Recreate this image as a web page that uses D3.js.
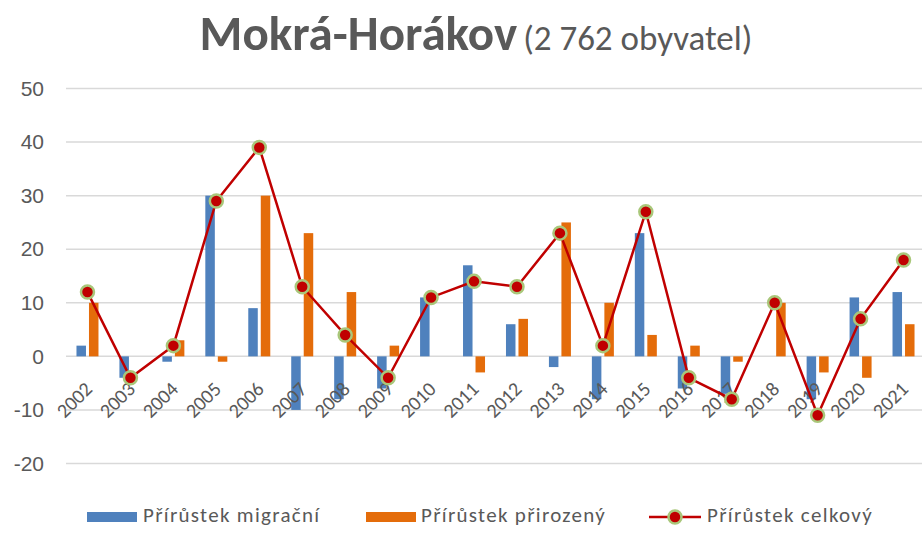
<!DOCTYPE html>
<html>
<head>
<meta charset="utf-8">
<script src="https://cdn.jsdelivr.net/npm/d3@7"></script>
<style>
  body { margin: 0; background: #fff; }
  svg { font-family: Carlito, Lato, "Open Sans", sans-serif; }
</style>
</head>
<body>
<svg></svg>
<script>
var years = ["2002","2003","2004","2005","2006","2007","2008","2009","2010","2011",
             "2012","2013","2014","2015","2016","2017","2018","2019","2020","2021"];
var migracni = [2, -4, -1, 30, 9, -10, -8, -6, 11, 17, 6, -2, -8, 23, -6, -7, 0, -8, 11, 12];
var prirozeny = [10, 0, 3, -1, 30, 23, 12, 2, 0, -3, 7, 25, 10, 4, 2, -1, 10, -3, -4, 6];
var celkovy = [12, -4, 2, 29, 39, 13, 4, -4, 11, 14, 13, 23, 2, 27, -4, -8, 10, -11, 7, 18];
var yTicks = [-20, -10, 0, 10, 20, 30, 40, 50];
var legendLabels = ["Přírůstek migrační", "Přírůstek přirozený", "Přírůstek celkový"];

var width = 922, height = 534;
var margin = { top: 88.5, right: -3, bottom: 70.5, left: 66 };

var blue = "#4F81BD", orange = "#E46C0A", red = "#C00000", grey = "#595959";

var svg = d3.select("svg").attr("width", width).attr("height", height);

var x = d3.scaleBand()
          .domain(years)
          .range([margin.left, width - margin.right]);

var y = d3.scaleLinear()
          .domain([-20, 50])
          .range([height - margin.bottom, margin.top]);

var barW = 9.5, gap = 3;

function cx(i) { return x(years[i]) + x.bandwidth()/2 }

// gridlines
svg.append("g")
   .selectAll("line")
   .data(yTicks)
   .enter()
   .append("line")
   .attr("x1", margin.left)
   .attr("x2", width - margin.right)
   .attr("y1", function(d){ return y(d) })
   .attr("y2", function(d){ return y(d) })
   .attr("stroke", "#D9D9D9")
   .attr("stroke-width", 1.5);

// y labels
var yAxis = svg.append("g")
   .attr("transform", "translate(44,0)")
   .call(d3.axisLeft(y).tickValues(yTicks).tickSize(0).tickPadding(0)
           .tickFormat(function(d){ return String(d) }));
yAxis.select(".domain").remove();
yAxis.selectAll("text")
     .attr("fill", grey)
     .attr("font-size", 21);

// bars
svg.append("g")
   .selectAll("rect")
   .data(migracni)
   .enter()
   .append("rect")
   .attr("x", function(d, i){ return cx(i) - barW - gap/2 })
   .attr("width", barW)
   .attr("y", function(d){ return y(Math.max(0, d)) })
   .attr("height", function(d){ return Math.abs(y(d) - y(0)) })
   .attr("fill", blue);

svg.append("g")
   .selectAll("rect")
   .data(prirozeny)
   .enter()
   .append("rect")
   .attr("x", function(d, i){ return cx(i) + gap/2 })
   .attr("width", barW)
   .attr("y", function(d){ return y(Math.max(0, d)) })
   .attr("height", function(d){ return Math.abs(y(d) - y(0)) })
   .attr("fill", orange);

// x labels
svg.append("g")
   .selectAll("text")
   .data(years)
   .enter()
   .append("text")
   .attr("transform", function(d, i){
     return "translate(" + (cx(i) + 6) + "," + (y(0) + 34) + ") rotate(-45)";
   })
   .attr("text-anchor", "end")
   .attr("font-size", 20)
   .attr("fill", grey)
   .text(function(d){ return d });

// line
var line = d3.line()
   .x(function(d, i){ return cx(i) })
   .y(function(d){ return y(d) });

svg.append("path")
   .datum(celkovy)
   .attr("d", line)
   .attr("fill", "none")
   .attr("stroke", red)
   .attr("stroke-width", 2.5);

svg.append("g")
   .selectAll("circle")
   .data(celkovy)
   .enter()
   .append("circle")
   .attr("cx", function(d, i){ return cx(i) })
   .attr("cy", function(d){ return y(d) })
   .attr("r", 6.5)
   .attr("fill", red)
   .attr("stroke", "#A9C77A")
   .attr("stroke-width", 2.5);

// title
var title = svg.append("text")
   .attr("x", 476)
   .attr("y", 50)
   .attr("text-anchor", "middle")
   .attr("fill", grey);
title.append("tspan")
   .attr("font-size", 49)
   .attr("font-weight", "bold")
   .text("Mokrá-Horákov");
title.append("tspan")
   .attr("font-size", 35)
   .attr("dx", 6)
   .text("(2 762 obyvatel)");

// legend
var legX = [87, 366, 649];
var legTextX = [143, 421, 707];
var leg = svg.append("g").attr("font-size", 21).attr("fill", grey).attr("letter-spacing", 1.3);

leg.append("rect").attr("x", legX[0]).attr("y", 512).attr("width", 50).attr("height", 10).attr("fill", blue);
leg.append("rect").attr("x", legX[1]).attr("y", 512).attr("width", 50).attr("height", 10).attr("fill", orange);
leg.append("line").attr("x1", legX[2]).attr("x2", legX[2] + 52).attr("y1", 517).attr("y2", 517)
   .attr("stroke", red).attr("stroke-width", 2.5);
leg.append("circle").attr("cx", legX[2] + 26).attr("cy", 517).attr("r", 6.5)
   .attr("fill", red).attr("stroke", "#A9C77A").attr("stroke-width", 2.5);

leg.selectAll("text.l")
   .data(legendLabels)
   .enter()
   .append("text")
   .attr("class", "l")
   .attr("x", function(d, i){ return legTextX[i] })
   .attr("y", 522)
   .text(function(d){ return d });
</script>
</body>
</html>
